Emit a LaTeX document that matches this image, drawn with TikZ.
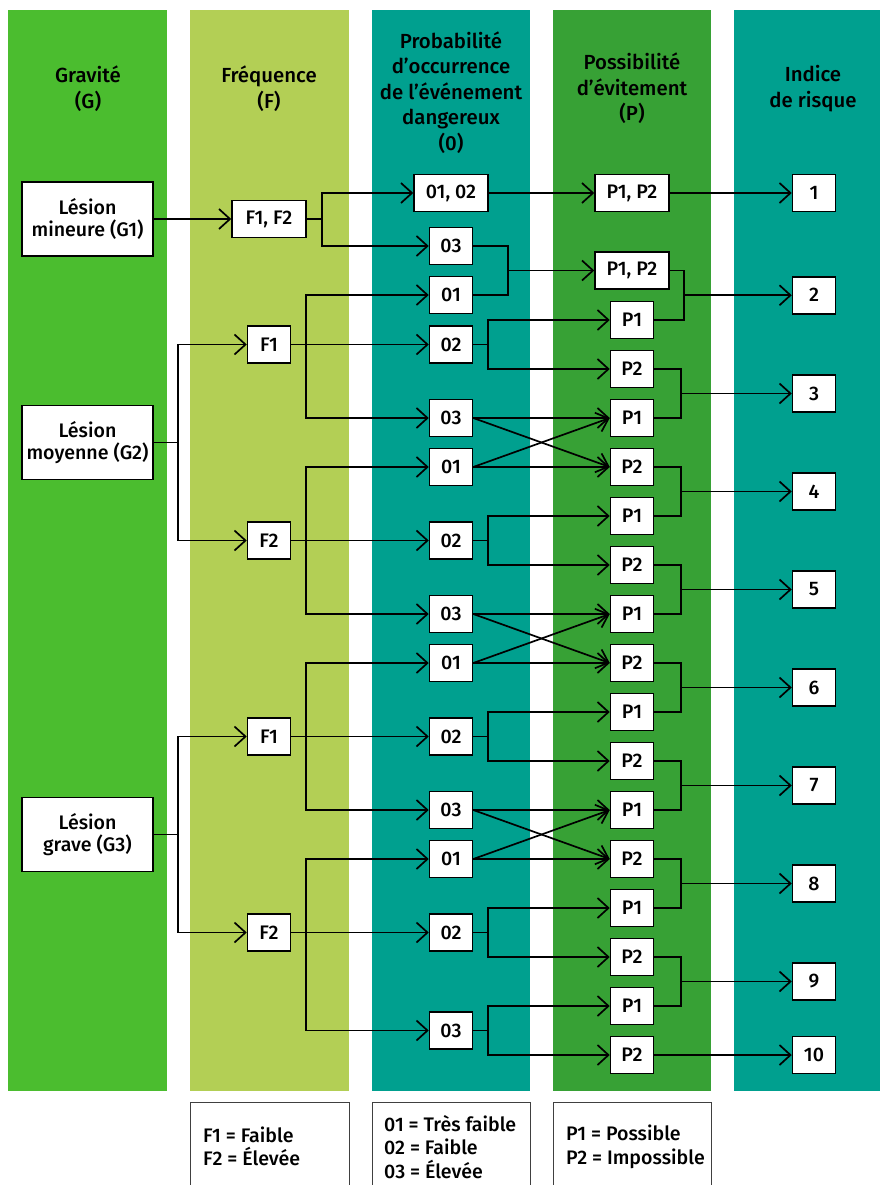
\documentclass[tikz,border=0pt]{standalone}
\usepackage{fontspec}
\setmainfont{Fira Sans}[UprightFont={* Medium}]
\usetikzlibrary{arrows.meta}

\definecolor{gravgreen}{HTML}{4BBD2F}
\definecolor{freqgreen}{HTML}{B3CF55}
\definecolor{probteal}{HTML}{00A08F}
\definecolor{possgreen}{HTML}{37A135}

\tikzset{
  box/.style={draw=black, fill=white, line width=1.5pt, inner sep=0pt, align=center,
    font=\fontsize{19.6}{22}\selectfont},
  gbox/.style={box, minimum width=131pt, minimum height=74pt},
  wbox/.style={box, minimum width=74pt, minimum height=37pt},
  sbox/.style={box, minimum width=43pt, minimum height=37pt},
  head/.style={align=center, font=\fontsize{20.4}{25.5}\selectfont},
  legend/.style={align=left, anchor=west, inner sep=0pt, font=\fontsize{19.6}{23.5}\selectfont},
  legline/.style={draw=black!75, line width=1pt},
  link/.style={line width=1.7pt},
  arr/.style={link, -{Straight Barb[length=11pt,width=20pt]}},
}

\begin{document}
\begin{tikzpicture}[x=1pt,y=-1pt]
\useasboundingbox (0,0) rectangle (880,1185);
\fill[gravgreen] (8,10) rectangle (167,1091);
\fill[freqgreen] (190,10) rectangle (349,1091);
\fill[probteal] (372,10) rectangle (530,1091);
\fill[possgreen] (553,10) rectangle (711,1091);
\fill[probteal] (734,10) rectangle (880,1091);

\node[head] (hg) at (88,88.5) {Gravité\\(G)};
\node[head] (hf) at (269,88.5) {Fréquence\\(F)};
\node[head] (ho) at (451,92.5) {Probabilité\\d’occurrence\\de l’événement\\dangereux\\(0)};
\node[head] (hp) at (632,88.5) {Possibilité\\d’évitement\\(P)};
\node[head] (hr) at (813,88.5) {Indice\\de risque};

% gravite
\node[gbox] (g1) at (87.5,219) {Lésion\\mineure (G1)};
\node[gbox] (g2) at (87.5,442.5) {Lésion\\moyenne (G2)};
\node[gbox] (g3) at (87.5,834.5) {Lésion\\grave (G3)};

% frequence
\node[wbox] (f12) at (269,219) {F1, F2};
\node[sbox] (fa1) at (269,344.5) {F1};
\node[sbox] (fa2) at (269,540.5) {F2};
\node[sbox] (fb1) at (269,736.5) {F1};
\node[sbox] (fb2) at (269,932.5) {F2};

% probabilite
\node[wbox] (o12) at (451,193) {01, 02};
\node[sbox] (o3) at (451,246) {03};
\node[sbox] (oA1) at (451,295) {01};
\node[sbox] (oA2) at (451,344.5) {02};
\node[sbox] (oA3) at (451,418) {03};
\node[sbox] (oB1) at (451,467) {01};
\node[sbox] (oB2) at (451,540.5) {02};
\node[sbox] (oB3) at (451,614) {03};
\node[sbox] (oC1) at (451,663) {01};
\node[sbox] (oC2) at (451,736.5) {02};
\node[sbox] (oC3) at (451,810) {03};
\node[sbox] (oD1) at (451,859) {01};
\node[sbox] (oD2) at (451,932.5) {02};
\node[sbox] (oD3) at (451,1030.5) {03};

% possibilite
\node[wbox] (p12a) at (632,193) {P1, P2};
\node[wbox] (p12b) at (632,270.5) {P1, P2};
\foreach \k [evaluate=\k as \y using 320+49*(\k-1), evaluate=\k as \n using {int(2-mod(\k,2))}] in {1,...,16}
  \node[sbox] (p\k) at (632,\y) {P\n};

% indice
\foreach \n/\y in {1/193,2/295.25,3/393.5,4/491.5,5/589.5,6/687.5,7/785.5,8/883.5,9/981.5,10/1055}
  \node[sbox] (r\n) at (814,\y) {\n};

% liens
\draw[arr] (g1) -- (f12);
\foreach \g/\u/\v in {g2/fa1/fa2, g3/fb1/fb2} {
  \draw[arr] (\g.east) -- ++(24,0) |- (\u.west);
  \draw[arr] (\g.east) -- ++(24,0) |- (\v.west);
}
\draw[arr] (f12.east) -- ++(15,0) |- (o12.west);
\draw[arr] (f12.east) -- ++(15,0) |- (o3.west);
\foreach \f/\g in {fa1/A, fa2/B, fb1/C, fb2/D} {
  \draw[arr] (\f.east) -- ++(15,0) |- (o\g1.west);
  \draw[arr] (\f) -- (o\g2);
  \draw[arr] (\f.east) -- ++(15,0) |- (o\g3.west);
}
\draw[arr] (o12) -- (p12a);
\draw[arr] (p12a) -- (r1);
\draw[link] (o3.east) -- ++(35,0) |- (oA1.east);
\draw[arr] ([xshift=35pt]o3.east) |- (p12b.west);
\foreach \o/\a/\b in {oA2/p1/p2, oB2/p5/p6, oC2/p9/p10, oD2/p13/p14, oD3/p15/p16} {
  \draw[arr] (\o.east) -- ++(15,0) |- (\a.west);
  \draw[arr] (\o.east) -- ++(15,0) |- (\b.west);
}
\foreach \u/\v/\a/\b in {oA3/oB1/p3/p4, oB3/oC1/p7/p8, oC3/oD1/p11/p12} {
  \draw[arr] (\u) -- (\a);
  \draw[arr] (\u.east) -- (\b.west);
  \draw[arr] (\v.east) -- (\a.west);
  \draw[arr] (\v) -- (\b);
}
\draw[link] (p12b.east) -- ++(14,0) |- (p1.east);
\draw[arr] ([xshift=14pt]p12b.east) |- (r2.west);
\foreach \a/\b/\r in {p2/p3/r3, p4/p5/r4, p6/p7/r5, p8/p9/r6, p10/p11/r7, p12/p13/r8, p14/p15/r9} {
  \draw[link] (\a.east) -- ++(27,0) |- (\b.east);
  \draw[arr] ([xshift=27pt]\a.east) |- (\r.west);
}
\draw[arr] (p16) -- (r10);

% legendes
\draw[legline] (190,1190) |- (349,1102) -- (349,1190);
\draw[legline] (372,1190) |- (530,1102) -- (530,1190);
\draw[legline] (553,1190) |- (711,1102) -- (711,1190);
\node[legend] (lf) at (203,1146.5) {F1 = Faible\\F2 = Élevée};
\node[legend] (lo) at (384,1147) {01 = Très faible\\02 = Faible\\03 = Élevée};
\node[legend] (lp) at (566,1147) {P1 = Possible\\P2 = Impossible};
\end{tikzpicture}
\end{document}
